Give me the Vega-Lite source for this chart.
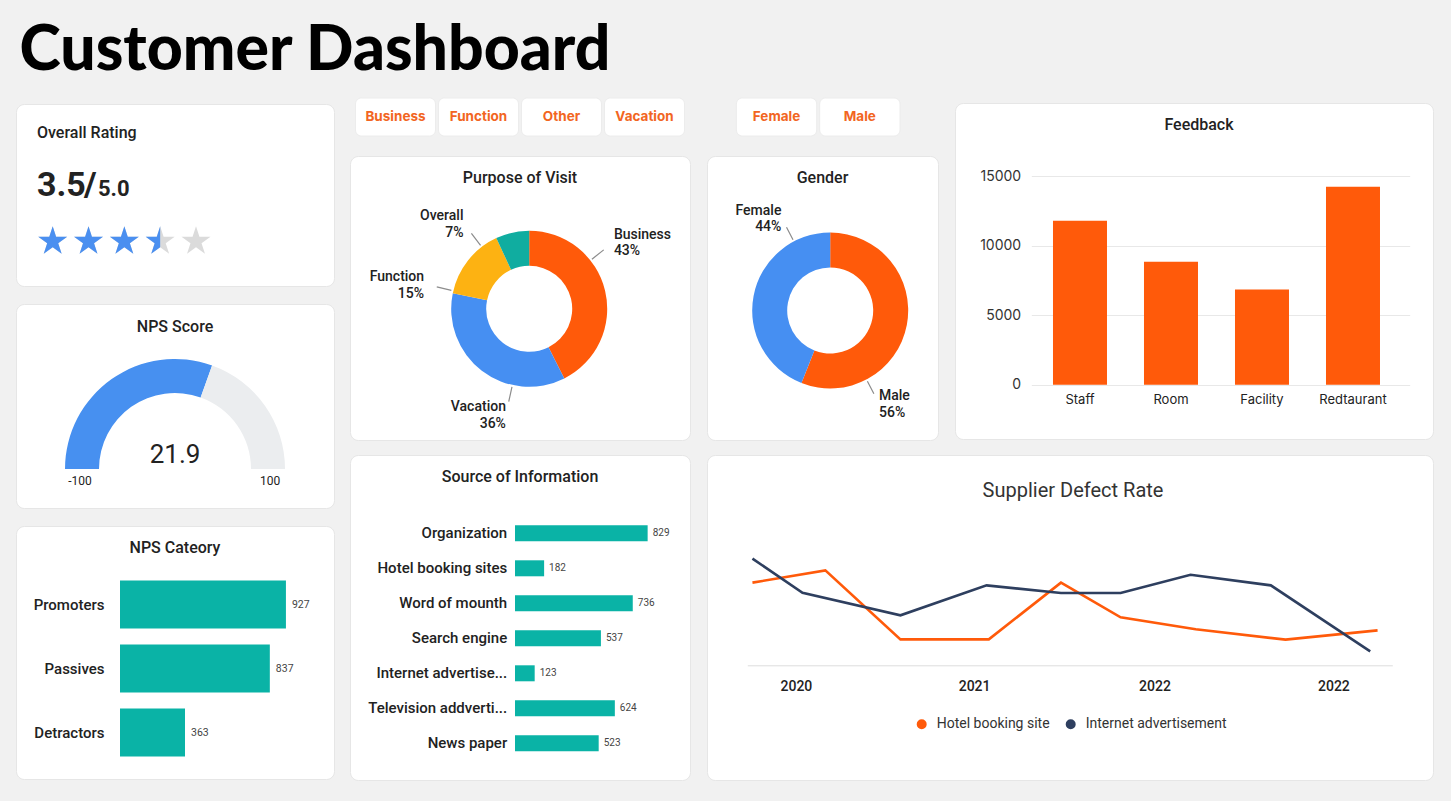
{
  "$schema": "https://vega.github.io/schema/vega-lite/v6.json",
  "background": "#f1f1f1",
  "padding": {"left": 15, "right": 17, "top": 20, "bottom": 20},
  "title": {"text": "Customer Dashboard", "font": "Lato", "fontSize": 62.5, "fontWeight": 900, "color": "#000000", "anchor": "start", "frame": "bounds", "offset": 14, "dx": 4},
  "config": {
    "font": "Roboto",
    "locale": {"number": {"decimal": ".", "thousands": ",", "grouping": [3], "currency": ["$", ""], "minus": "-"}},
    "view": {"fill": "#ffffff", "stroke": "#e6e6e6", "strokeWidth": 1, "cornerRadius": 8},
    "axis": {"domain": false, "ticks": false, "grid": false, "labelColor": "#222222", "labelFont": "Roboto"},
    "title": {"font": "Roboto", "fontSize": 16, "fontWeight": 500, "color": "#222222", "anchor": "middle", "frame": "group"}
  },
  "resolve": {"scale": {"color": "independent", "theta": "independent", "x": "independent", "y": "independent"}, "legend": {"color": "independent"}},
  "spacing": 14,
  "hconcat": [
    {
      "spacing": 4,
      "resolve": {"scale": {"color": "independent", "theta": "independent", "x": "independent", "y": "independent"}, "legend": {"color": "independent"}},
      "vconcat": [
        {"width": 318, "height": 1, "view": {"fill": null, "stroke": null}, "data": {"values": []}, "mark": "point"},
        {
          "spacing": 16,
          "resolve": {"scale": {"color": "independent", "theta": "independent", "x": "independent", "y": "independent"}, "legend": {"color": "independent"}},
          "vconcat": [
            {
              "width": 318, "height": 182,
              "view": {"style": "cell", "fill": "#ffffff", "stroke": "#e6e6e6", "strokeWidth": 1, "cornerRadius": 8},
              "title": {"text": "Overall Rating", "anchor": "start", "dx": 21, "offset": -37, "fontSize": 16, "fontWeight": 500},
              "data": {"values": [
                {"star": 1, "state": "full"}, {"star": 2, "state": "full"}, {"star": 3, "state": "full"},
                {"star": 4, "state": "half"}, {"star": 5, "state": "empty"}
              ]},
              "layer": [
                {
                  "mark": {"type": "point", "shape": "M0,-1L0.2245,-0.309L0.951,-0.309L0.363,0.118L0.588,0.809L0,0.382L-0.588,0.809L-0.363,0.118L-0.951,-0.309L-0.2245,-0.309Z", "filled": true, "color": "#dbdbdb", "opacity": 1, "size": 930, "yOffset": 46.5},
                  "encoding": {"x": {"field": "star", "type": "quantitative", "scale": {"domain": [1, 5], "range": [36.7, 180]}, "axis": null}}
                },
                {
                  "transform": [{"filter": "datum.state == 'full'"}],
                  "mark": {"type": "point", "shape": "M0,-1L0.2245,-0.309L0.951,-0.309L0.363,0.118L0.588,0.809L0,0.382L-0.588,0.809L-0.363,0.118L-0.951,-0.309L-0.2245,-0.309Z", "filled": true, "color": "#4a8ff0", "opacity": 1, "size": 930, "yOffset": 46.5},
                  "encoding": {"x": {"field": "star", "type": "quantitative", "axis": null}}
                },
                {
                  "transform": [{"filter": "datum.state == 'half'"}],
                  "mark": {"type": "point", "shape": "M0,-1L0,0.382L-0.588,0.809L-0.363,0.118L-0.951,-0.309L-0.2245,-0.309Z", "filled": true, "color": "#4a8ff0", "opacity": 1, "size": 930, "yOffset": 46.5},
                  "encoding": {"x": {"field": "star", "type": "quantitative", "axis": null}}
                },
                {
                  "data": {"values": [{"score": 3.5, "max": 5}]},
                  "mark": {"type": "text", "align": "left", "baseline": "alphabetic", "fontSize": 34, "fontWeight": 700, "color": "#222222", "dx": -138, "dy": 1},
                  "encoding": {"text": {"field": "score", "type": "quantitative", "format": ".1f"}}
                },
                {
                  "data": {"values": [{"score": 3.5, "max": 5}]},
                  "mark": {"type": "text", "text": "/", "align": "left", "baseline": "alphabetic", "fontSize": 34, "fontWeight": 700, "color": "#222222", "dx": -91, "dy": 1}
                },
                {
                  "data": {"values": [{"score": 3.5, "max": 5}]},
                  "mark": {"type": "text", "align": "left", "baseline": "alphabetic", "fontSize": 22, "fontWeight": 700, "color": "#222222", "dx": -77, "dy": 1},
                  "encoding": {"text": {"field": "max", "type": "quantitative", "format": ".1f"}}
                }
              ]
            },
            {
              "width": 318, "height": 204,
              "view": {"style": "cell", "fill": "#ffffff", "stroke": "#e6e6e6", "strokeWidth": 1, "cornerRadius": 8},
              "title": {"text": "NPS Score", "offset": -30.7},
              "layer": [
                {
                  "data": {"values": [{"segment": "score", "from": -100, "to": 21.9}, {"segment": "remaining", "from": 21.9, "to": 100}]},
                  "mark": {"type": "arc", "radius": 110, "radius2": 76, "yOffset": 63},
                  "encoding": {
                    "theta": {"field": "from", "type": "quantitative", "scale": {"domain": [-100, 100], "range": [-1.5708, 1.5708]}},
                    "theta2": {"field": "to"},
                    "color": {"field": "segment", "type": "nominal", "scale": {"domain": ["score", "remaining"], "range": ["#4790f0", "#ebedef"]}, "legend": null}
                  }
                },
                {
                  "data": {"values": [{"nps": 21.9}]},
                  "mark": {"type": "text", "fontSize": 26, "baseline": "alphabetic", "dy": 57, "color": "#222222"},
                  "encoding": {"text": {"field": "nps", "type": "quantitative", "format": ".1f"}}
                },
                {
                  "data": {"values": [{"end": -100}, {"end": 100}]},
                  "mark": {"type": "text", "radius": 95, "fontSize": 12, "baseline": "alphabetic", "dy": 79, "color": "#222222"},
                  "encoding": {
                    "theta": {"field": "end", "type": "quantitative"},
                    "text": {"field": "end", "type": "quantitative", "format": "d"}
                  }
                }
              ]
            },
            {
              "width": 318, "height": 253,
              "view": {"style": "cell", "fill": "#ffffff", "stroke": "#e6e6e6", "strokeWidth": 1, "cornerRadius": 8},
              "title": {"text": "NPS Cateory", "offset": -30},
              "data": {"values": [
                {"category": "Promoters", "count": 927},
                {"category": "Passives", "count": 837},
                {"category": "Detractors", "count": 363}
              ]},
              "encoding": {
                "y": {"field": "category", "type": "nominal", "sort": null, "scale": {"range": [46.5, 238.5], "paddingInner": 0.25, "paddingOuter": 0.125}, "axis": {"title": null, "offset": -104, "labelPadding": 16, "labelFontSize": 15, "labelFontWeight": 500, "labelColor": "#222222"}},
                "x": {"field": "count", "type": "quantitative", "scale": {"domain": [0, 1000], "range": [104, 283]}, "axis": null}
              },
              "layer": [
                {"mark": {"type": "bar", "color": "#0ab3a6"}},
                {"mark": {"type": "text", "align": "left", "dx": 6, "fontSize": 10.5, "color": "#444444"}, "encoding": {"text": {"field": "count", "type": "quantitative"}}}
              ]
            }
          ]
        }
      ]
    },
    {
      "spacing": 13,
      "resolve": {"scale": {"color": "independent", "theta": "independent", "x": "independent", "y": "independent"}, "legend": {"color": "independent"}},
      "vconcat": [
        {
          "spacing": 15,
          "resolve": {"scale": {"color": "independent", "theta": "independent", "x": "independent", "y": "independent"}, "legend": {"color": "independent"}},
          "hconcat": [
            {
              "spacing": 18,
              "resolve": {"scale": {"color": "independent", "theta": "independent", "x": "independent", "y": "independent"}, "legend": {"color": "independent"}},
              "vconcat": [
                {
                  "width": 340, "height": 38,
                  "view": {"fill": null, "stroke": null},
                  "data": {"values": [{"filter": "Business"}, {"filter": "Function"}, {"filter": "Other"}, {"filter": "Vacation"}]},
                  "encoding": {"x": {"field": "filter", "type": "nominal", "sort": null, "scale": {"paddingInner": 0.036, "paddingOuter": 0.066}, "axis": null}},
                  "layer": [
                    {"mark": {"type": "rect", "fill": "#ffffff", "cornerRadius": 6, "stroke": "#ececec"}},
                    {"mark": {"type": "text", "font": "Inter", "fontSize": 13.5, "fontWeight": 700, "color": "#f26522"}, "encoding": {"text": {"field": "filter", "type": "nominal"}}}
                  ]
                },
                {
                  "width": 340, "height": 284,
                  "view": {"style": "cell", "fill": "#ffffff", "stroke": "#e6e6e6", "strokeWidth": 1, "cornerRadius": 8},
                  "title": {"text": "Purpose of Visit", "offset": -29.7},
                  "data": {"values": [
                    {"purpose": "Business", "share": 0.43},
                    {"purpose": "Vacation", "share": 0.36},
                    {"purpose": "Function", "share": 0.15},
                    {"purpose": "Overall", "share": 0.07}
                  ]},
                  "resolve": {"scale": {"theta": "independent"}},
                  "layer": [
                    {
                      "mark": {"type": "arc", "radius": 78, "radius2": 43, "xOffset": 9.2, "yOffset": 10.8},
                      "encoding": {
                        "theta": {"field": "share", "type": "quantitative", "stack": true},
                        "order": {"field": "share", "type": "quantitative", "sort": "descending"},
                        "color": {"field": "purpose", "type": "nominal", "scale": {"domain": ["Business", "Vacation", "Function", "Overall"], "range": ["#ff5a0a", "#468ff2", "#fdb212", "#10ada0"]}, "legend": null}
                      }
                    },
                    {
                      "transform": [
                        {"stack": "share", "groupby": [], "sort": [{"field": "share", "order": "descending"}], "as": ["s0", "s1"]},
                        {"fold": ["s0", "s1"], "as": ["edge", "edgeValue"]},
                        {"aggregate": [{"op": "mean", "field": "edgeValue", "as": "mid"}], "groupby": ["purpose"]}
                      ],
                      "mark": {"type": "arc", "radius": 95, "radius2": 80, "xOffset": 9.2, "yOffset": 10.8, "filled": false, "stroke": "#8c8c8c", "strokeWidth": 1.2},
                      "encoding": {
                        "theta": {"field": "mid", "type": "quantitative", "scale": {"domain": [0, 1.01], "range": [-0.436, 5.847]}},
                        "theta2": {"field": "mid"}
                      }
                    },
                    {
                      "mark": {"type": "text", "radius": 108, "dx": 9.2, "dy": 7.8, "baseline": "alphabetic", "fontSize": 14, "fontWeight": 500, "color": "#222222", "align": {"expr": "datum.purpose == 'Business' ? 'left' : 'right'"}},
                      "encoding": {
                        "theta": {"field": "share", "type": "quantitative", "stack": true, "scale": {"range": [-0.436, 5.847]}},
                        "order": {"field": "share", "type": "quantitative", "sort": "descending"},
                        "text": {"field": "purpose", "type": "nominal"}
                      }
                    },
                    {
                      "mark": {"type": "text", "radius": 108, "dx": 9.2, "dy": 24.5, "baseline": "alphabetic", "fontSize": 14, "fontWeight": 500, "color": "#222222", "align": {"expr": "datum.purpose == 'Business' ? 'left' : 'right'"}},
                      "encoding": {
                        "theta": {"field": "share", "type": "quantitative", "stack": true, "scale": {"range": [-0.436, 5.847]}},
                        "order": {"field": "share", "type": "quantitative", "sort": "descending"},
                        "text": {"field": "share", "type": "quantitative", "format": ".0%"}
                      }
                    }
                  ]
                }
              ]
            },
            {
              "spacing": 18,
              "resolve": {"scale": {"color": "independent", "theta": "independent", "x": "independent", "y": "independent"}, "legend": {"color": "independent"}},
              "vconcat": [
                {
                  "width": 231, "height": 38,
                  "view": {"fill": null, "stroke": null},
                  "data": {"values": [{"filter": "Female"}, {"filter": "Male"}]},
                  "encoding": {"x": {"field": "filter", "type": "nominal", "sort": null, "scale": {"range": [29.4, 193], "paddingInner": 0.036, "paddingOuter": 0}, "axis": null}},
                  "layer": [
                    {"mark": {"type": "rect", "fill": "#ffffff", "cornerRadius": 6, "stroke": "#ececec"}},
                    {"mark": {"type": "text", "font": "Inter", "fontSize": 13.5, "fontWeight": 700, "color": "#f26522"}, "encoding": {"text": {"field": "filter", "type": "nominal"}}}
                  ]
                },
                {
                  "width": 231, "height": 284,
                  "view": {"style": "cell", "fill": "#ffffff", "stroke": "#e6e6e6", "strokeWidth": 1, "cornerRadius": 8},
                  "title": {"text": "Gender", "offset": -29.7},
                  "data": {"values": [
                    {"gender": "Male", "share": 0.56},
                    {"gender": "Female", "share": 0.44}
                  ]},
                  "resolve": {"scale": {"theta": "independent"}},
                  "layer": [
                    {
                      "mark": {"type": "arc", "radius": 78, "radius2": 43, "xOffset": 7.7, "yOffset": 12.5},
                      "encoding": {
                        "theta": {"field": "share", "type": "quantitative", "stack": true},
                        "order": {"field": "share", "type": "quantitative", "sort": "descending"},
                        "color": {"field": "gender", "type": "nominal", "scale": {"domain": ["Male", "Female"], "range": ["#ff5a0a", "#468ff2"]}, "legend": null}
                      }
                    },
                    {
                      "transform": [
                        {"stack": "share", "groupby": [], "sort": [{"field": "share", "order": "descending"}], "as": ["s0", "s1"]},
                        {"fold": ["s0", "s1"], "as": ["edge", "edgeValue"]},
                        {"aggregate": [{"op": "mean", "field": "edgeValue", "as": "mid"}], "groupby": ["gender"]}
                      ],
                      "mark": {"type": "arc", "radius": 94, "radius2": 80, "xOffset": 7.7, "yOffset": 12.5, "filled": false, "stroke": "#8c8c8c", "strokeWidth": 1.2},
                      "encoding": {
                        "theta": {"field": "mid", "type": "quantitative", "scale": {"domain": [0, 1], "range": [0.899, 7.182]}},
                        "theta2": {"field": "mid"}
                      }
                    },
                    {
                      "mark": {"type": "text", "radius": 105, "dx": 7.7, "dy": 9.5, "baseline": "alphabetic", "fontSize": 14, "fontWeight": 500, "color": "#222222", "align": {"expr": "datum.gender == 'Male' ? 'left' : 'right'"}},
                      "encoding": {
                        "theta": {"field": "share", "type": "quantitative", "stack": true, "scale": {"range": [0.899, 7.182]}},
                        "order": {"field": "share", "type": "quantitative", "sort": "descending"},
                        "text": {"field": "gender", "type": "nominal"}
                      }
                    },
                    {
                      "mark": {"type": "text", "radius": 105, "dx": 7.7, "dy": 26.2, "baseline": "alphabetic", "fontSize": 14, "fontWeight": 500, "color": "#222222", "align": {"expr": "datum.gender == 'Male' ? 'left' : 'right'"}},
                      "encoding": {
                        "theta": {"field": "share", "type": "quantitative", "stack": true, "scale": {"range": [0.899, 7.182]}},
                        "order": {"field": "share", "type": "quantitative", "sort": "descending"},
                        "text": {"field": "share", "type": "quantitative", "format": ".0%"}
                      }
                    }
                  ]
                }
              ]
            },
            {
              "spacing": 3,
              "resolve": {"scale": {"color": "independent", "theta": "independent", "x": "independent", "y": "independent"}, "legend": {"color": "independent"}},
              "vconcat": [
                {"width": 478, "height": 1, "view": {"fill": null, "stroke": null}, "data": {"values": []}, "mark": "point"},
                {
                  "width": 478, "height": 336,
                  "view": {"style": "cell", "fill": "#ffffff", "stroke": "#e6e6e6", "strokeWidth": 1, "cornerRadius": 8},
                  "title": {"text": "Feedback", "offset": -30, "dx": 5},
                  "data": {"values": [
                    {"aspect": "Staff", "count": 11800},
                    {"aspect": "Room", "count": 8850},
                    {"aspect": "Facility", "count": 6850},
                    {"aspect": "Redtaurant", "count": 14250}
                  ]},
                  "mark": {"type": "bar", "color": "#ff5a0a"},
                  "encoding": {
                    "x": {"field": "aspect", "type": "nominal", "sort": null, "scale": {"range": [76.3, 454.7], "paddingInner": 0.4066, "paddingOuter": 0.2824, "align": 0.422}, "axis": {"title": null, "labelAngle": 0, "offset": -54.3, "labelPadding": 9, "labelFontSize": 13, "labelFont": "Inter", "labelColor": "#222222"}},
                    "y": {"field": "count", "type": "quantitative", "scale": {"domain": [0, 15000], "range": [281.7, 73.3]}, "axis": {"title": null, "values": [0, 5000, 10000, 15000], "format": "d", "grid": true, "gridColor": "#e8e8e8", "offset": -76.3, "labelPadding": 10.6, "labelFontSize": 14, "labelFont": "Inter", "labelColor": "#333333"}}
                  }
                }
              ]
            }
          ]
        },
        {
          "spacing": 15,
          "resolve": {"scale": {"color": "independent", "theta": "independent", "x": "independent", "y": "independent"}, "legend": {"color": "independent"}},
          "hconcat": [
            {
              "width": 340, "height": 325,
              "view": {"style": "cell", "fill": "#ffffff", "stroke": "#e6e6e6", "strokeWidth": 1, "cornerRadius": 8},
              "title": {"text": "Source of Information", "offset": -30.4},
              "data": {"values": [
                {"source": "Organization", "count": 829},
                {"source": "Hotel booking sites", "count": 182},
                {"source": "Word of mounth", "count": 736},
                {"source": "Search engine", "count": 537},
                {"source": "Internet advertise...", "count": 123},
                {"source": "Television addverti...", "count": 624},
                {"source": "News paper", "count": 523}
              ]},
              "encoding": {
                "y": {"field": "source", "type": "nominal", "sort": null, "scale": {"range": [60.8, 305.8], "paddingInner": 0.543, "paddingOuter": 0.2715}, "axis": {"title": null, "offset": -165, "labelPadding": 8.3, "labelFontSize": 15, "labelFontWeight": 500, "labelColor": "#222222", "labelLimit": 300}},
                "x": {"field": "count", "type": "quantitative", "scale": {"domain": [0, 1000], "range": [165, 325]}, "axis": null}
              },
              "layer": [
                {"mark": {"type": "bar", "color": "#0ab3a6"}},
                {"mark": {"type": "text", "align": "left", "dx": 5, "fontSize": 10, "color": "#444444"}, "encoding": {"text": {"field": "count", "type": "quantitative"}}}
              ]
            },
            {
              "width": 726, "height": 325,
              "view": {"style": "cell", "fill": "#ffffff", "stroke": "#e6e6e6", "strokeWidth": 1, "cornerRadius": 8},
              "title": {"text": "Supplier Defect Rate", "offset": -46, "dx": 3, "fontSize": 20, "fontWeight": 400, "color": "#333333"},
              "data": {"values": [
                {"date": "2020-07-04", "series": "Hotel booking site", "rate": 5.51},
                {"date": "2020-10-11", "series": "Hotel booking site", "rate": 6.33},
                {"date": "2021-01-21", "series": "Hotel booking site", "rate": 1.73},
                {"date": "2021-05-21", "series": "Hotel booking site", "rate": 1.73},
                {"date": "2021-08-27", "series": "Hotel booking site", "rate": 5.51},
                {"date": "2021-11-16", "series": "Hotel booking site", "rate": 3.2},
                {"date": "2022-02-26", "series": "Hotel booking site", "rate": 2.4},
                {"date": "2022-06-28", "series": "Hotel booking site", "rate": 1.71},
                {"date": "2022-10-31", "series": "Hotel booking site", "rate": 2.33},
                {"date": "2020-07-04", "series": "Internet advertisement", "rate": 7.11},
                {"date": "2020-09-10", "series": "Internet advertisement", "rate": 4.84},
                {"date": "2021-01-21", "series": "Internet advertisement", "rate": 3.33},
                {"date": "2021-05-18", "series": "Internet advertisement", "rate": 5.33},
                {"date": "2021-08-27", "series": "Internet advertisement", "rate": 4.82},
                {"date": "2021-11-16", "series": "Internet advertisement", "rate": 4.82},
                {"date": "2022-02-19", "series": "Internet advertisement", "rate": 6.04},
                {"date": "2022-06-08", "series": "Internet advertisement", "rate": 5.33},
                {"date": "2022-10-21", "series": "Internet advertisement", "rate": 0.93}
              ]},
              "mark": {"type": "line", "strokeWidth": 2.6},
              "encoding": {
                "x": {"field": "date", "type": "temporal", "scale": {"domain": [{"year": 2020, "month": 6, "date": 27}, {"year": 2022, "month": 11, "date": 20}], "range": [40.3, 685.3]}, "axis": {"title": null, "values": [{"year": 2020, "month": 9, "date": 1}, {"year": 2021, "month": 5, "date": 1}, {"year": 2022, "month": 1, "date": 1}, {"year": 2022, "month": 9, "date": 1}], "format": "%Y", "domain": true, "domainColor": "#dddddd", "offset": -114.7, "labelPadding": 14, "labelFontSize": 14, "labelFontWeight": 500, "labelColor": "#222222", "labelFlush": false, "labelOverlap": false}},
                "y": {"field": "rate", "type": "quantitative", "scale": {"domain": [0, 10], "range": [210.3, 60.3]}, "axis": null},
                "color": {"field": "series", "type": "nominal", "scale": {"domain": ["Hotel booking site", "Internet advertisement"], "range": ["#ff5a0a", "#2e3f5f"]}, "legend": {"title": null, "orient": "none", "legendX": 207.7, "legendY": 262, "direction": "horizontal", "symbolType": "circle", "symbolSize": 25, "symbolStrokeWidth": 5, "labelFontSize": 14, "labelColor": "#333333", "labelOffset": 8, "columnPadding": 8}}
              }
            }
          ]
        }
      ]
    }
  ]
}
